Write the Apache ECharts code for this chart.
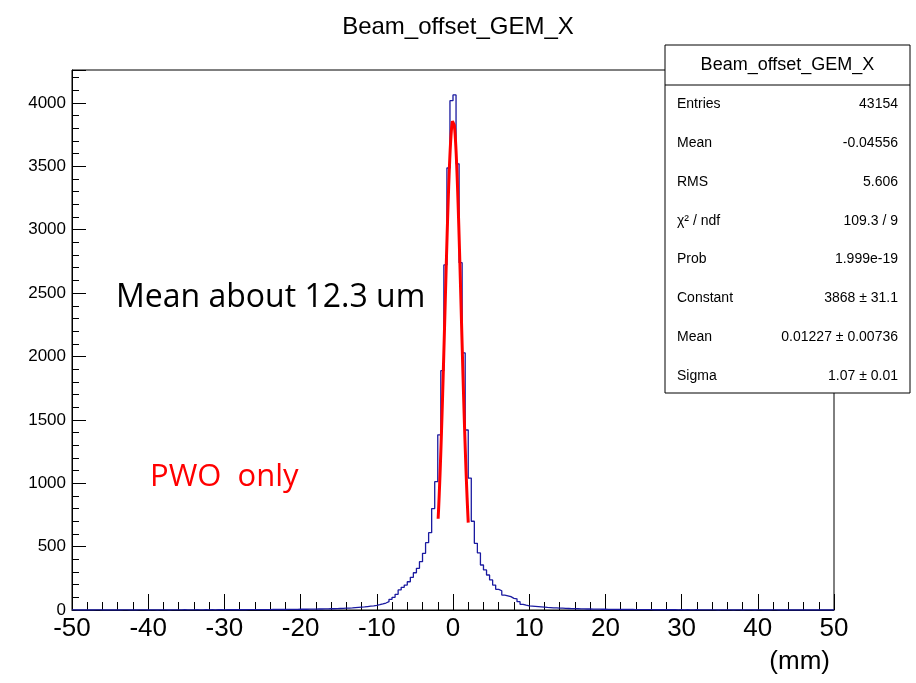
<!DOCTYPE html>
<html>
<head>
<meta charset="utf-8">
<script src="https://cdn.jsdelivr.net/npm/echarts@6/dist/echarts.min.js"></script>
<style>html,body{margin:0;padding:0;background:#fff}#chart{width:916px;height:683px}</style>
</head>
<body>
<div id="chart"></div>
<script>
// histogram: 250 bins of 0.4 mm from -50 to 50
var binWidth = 0.4;
var xMin = -50;
// counts going outward from 0 to the left (first = [-0.4,0))
var leftOut = [4018,3487,2722,1888,1382,1012,800,610,531,447,381,329,294,258,223,197,179,158,124,100,84,66,55,48,42,
  37,33,30,27,24,22,20,18,16,15,14,13,12,11,10,10,9,9,8,8,7,7,7,6,6,
  6,5,5,5,5,4,4,4,4,4,3,3,3,3,3,3,3,3,2,2,2,2,2,2,2,1,2,2,1,2,1,2,1,1,2,1,1,1,2,1,
  1,1,1,0,1,1,1,0,1,1,0,1,1,1,0,1,0,1,1,0,1,0,1,0,1,0,1,1,0,1,0,1,0,0,1];
// counts going outward from 0 to the right (first = [0,0.4))
var rightOut = [4063,3520,2740,2028,1420,1041,700,526,450,355,316,276,237,197,163,152,118,112,105,92,88,66,45,38,32,
  30,28,26,24,22,20,19,17,16,15,14,13,12,11,11,10,9,9,8,8,7,7,7,6,6,
  5,5,5,5,4,4,4,4,4,3,3,3,3,3,3,2,2,2,2,2,2,2,2,1,2,1,2,1,1,2,1,1,1,1,1,1,0,1,1,1,
  1,0,1,1,0,1,1,1,0,1,1,0,1,0,1,1,0,1,0,1,0,1,0,1,0,1,0,0,1,0,1,0,0,1,0];
var counts = leftOut.slice().reverse().concat(rightOut);

// gaussian fit parameters
var fitConstant = 3868, fitMean = 0.01227, fitSigma = 1.07;
var fitRange = [-1.95, 2.0];

var statsTitle = 'Beam_offset_GEM_X';
var statsRows = [
  ['Entries', '43154'],
  ['Mean', '-0.04556'],
  ['RMS', '5.606'],
  ['\u03c7\u00b2 / ndf', '109.3 / 9'],
  ['Prob', '1.999e-19'],
  ['Constant', '3868 \u00b1 31.1'],
  ['Mean', '0.01227 \u00b1 0.00736'],
  ['Sigma', '1.07 \u00b1 0.01']
];

var histData = counts.map(function (c, i) { return [xMin + i * binWidth, c]; });
histData.push([50, counts[counts.length - 1]]);

var fitData = [];
for (var k = 0; k <= 80; k++) {
  var x = fitRange[0] + (fitRange[1] - fitRange[0]) * k / 80;
  fitData.push([x, fitConstant * Math.exp(-0.5 * Math.pow((x - fitMean) / fitSigma, 2))]);
}

var font = 'Liberation Sans, Arial, sans-serif';
var boxL = 665, boxT = 45, boxW = 245, boxH = 348, headH = 40;
var graphics = [
  { type: 'rect', shape: { x: boxL, y: boxT, width: boxW, height: boxH }, style: { fill: '#fff', stroke: '#000', lineWidth: 1 }, z: 10 },
  { type: 'line', shape: { x1: boxL, y1: boxT + headH, x2: boxL + boxW, y2: boxT + headH }, style: { stroke: '#000', lineWidth: 1 }, z: 11 },
  { type: 'text', x: boxL + boxW / 2, y: boxT + headH / 2, style: { text: statsTitle, font: '18px ' + font, fill: '#000', align: 'center', verticalAlign: 'middle' }, z: 11 },
  { type: 'text', x: 116, y: 298, style: { text: 'Mean about 12.3 um', font: '32px Open Sans, sans-serif', fill: '#000', verticalAlign: 'middle' }, z: 11 },
  { type: 'text', x: 150, y: 477, style: { text: 'PWO  only', font: '31px Open Sans, sans-serif', fill: '#ff0000', verticalAlign: 'middle' }, z: 11 },
  { type: 'text', x: 830, y: 662, style: { text: '(mm)', font: '26px ' + font, fill: '#000', align: 'right', verticalAlign: 'middle' }, z: 11 }
];
statsRows.forEach(function (r, i) {
  var y = 104 + i * 38.9;
  graphics.push({ type: 'text', x: boxL + 12, y: y, style: { text: r[0], font: '14px ' + font, fill: '#000', verticalAlign: 'middle' }, z: 11 });
  graphics.push({ type: 'text', x: boxL + boxW - 12, y: y, style: { text: r[1], font: '14px ' + font, fill: '#000', align: 'right', verticalAlign: 'middle' }, z: 11 });
});

var chart = echarts.init(document.getElementById('chart'));
chart.setOption({
  animation: false,
  title: { text: 'Beam_offset_GEM_X', left: 'center', top: 10, textStyle: { fontFamily: font, fontSize: 24, fontWeight: 'normal', color: '#000' } },
  grid: { left: 72, right: 82, top: 70, bottom: 73, show: true, borderColor: '#000', borderWidth: 1 },
  xAxis: {
    type: 'value', min: -50, max: 50, interval: 10,
    axisLine: { onZero: false, lineStyle: { color: '#000', width: 1 } },
    axisTick: { inside: true, length: 16, lineStyle: { color: '#000' } },
    minorTick: { show: true, splitNumber: 5, length: 8, lineStyle: { color: '#000' } },
    splitLine: { show: false },
    axisLabel: { fontFamily: font, fontSize: 26, color: '#000', margin: 6 }
  },
  yAxis: {
    type: 'value', min: 0, max: 4260, interval: 500,
    axisLine: { show: true, onZero: false, lineStyle: { color: '#000', width: 1 } },
    axisTick: { inside: true, length: 14, lineStyle: { color: '#000' } },
    minorTick: { show: true, splitNumber: 5, length: 7, lineStyle: { color: '#000' } },
    splitLine: { show: false },
    axisLabel: { fontFamily: font, fontSize: 17, color: '#000', margin: 6, showMaxLabel: false,
      formatter: function (v) { return String(v); } }
  },
  series: [
    { type: 'line', data: histData, step: 'end', symbol: 'none', lineStyle: { color: '#1a1aa0', width: 1.3 } },
    { type: 'line', data: fitData, symbol: 'none', smooth: false, lineStyle: { color: '#ff0000', width: 3 }, z: 3 }
  ],
  graphic: graphics
});
</script>
</body>
</html>
